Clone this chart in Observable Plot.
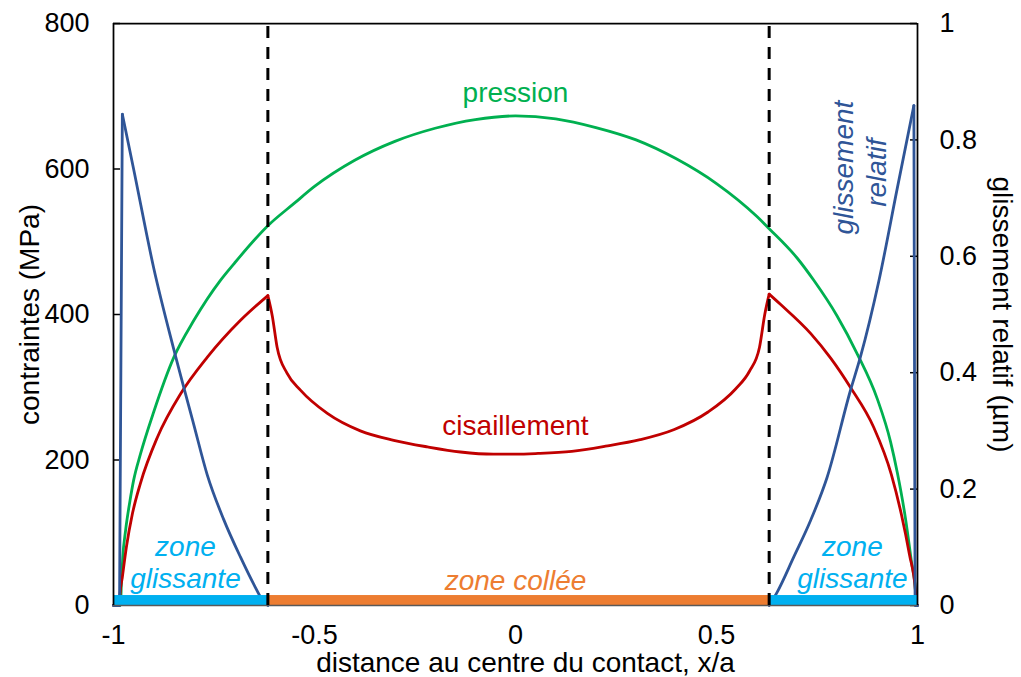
<!DOCTYPE html>
<html><head><meta charset="utf-8">
<script src="https://cdn.jsdelivr.net/npm/d3@7"></script>
<script src="https://cdn.jsdelivr.net/npm/@observablehq/plot@0.6"></script>
<style>
html,body{margin:0;padding:0;background:#fff;}
</style></head><body><div id="chart"></div>
<script>
// x/a positions and values
const pressionX = [-1, -0.983, -0.98, -0.977, -0.97, -0.959, -0.95, -0.933, -0.9, -0.85, -0.8, -0.734, -0.7, -0.616, -0.55, -0.5, -0.4, -0.3, -0.2, -0.1, 0, 0.1, 0.2, 0.3, 0.4, 0.5, 0.6, 0.631, 0.7, 0.742, 0.8, 0.85, 0.9, 0.933, 0.95, 0.97, 0.985, 0.995, 0.997, 1];
const pressionMPa = [0, 0, 34, 66, 103, 144, 172, 208, 266, 341, 392, 447, 470, 522, 553, 576, 612, 638, 656, 668, 673, 669, 657, 640, 614, 580, 535, 518, 478, 447, 398, 346, 284, 225, 182, 120, 60, 20, 0, 0];

const cisX = [-1, -0.985, -0.984, -0.978, -0.968, -0.953, -0.933, -0.891, -0.833, -0.767, -0.684, -0.616, -0.605, -0.593, -0.568, -0.535, -0.468, -0.386, -0.303, -0.219, -0.137, -0.055, 0, 0.056, 0.14, 0.224, 0.31, 0.395, 0.479, 0.548, 0.582, 0.607, 0.62, 0.631, 0.659, 0.734, 0.784, 0.833, 0.891, 0.935, 0.96, 0.98, 0.995, 0.997, 1];
const cisMPa = [0, 0, 14, 39, 80, 126, 168, 231, 291, 341, 392, 426, 398, 355, 319, 296, 264, 240, 227, 218, 211, 208, 208, 209, 212, 219, 228, 242, 266, 298, 322, 355, 400, 428, 414, 374, 340, 300, 245, 180, 125, 70, 20, 0, 0];

const glisX = [-1, -0.985, -0.978, -0.95, -0.9, -0.85, -0.8, -0.767, -0.726, -0.684, -0.65, -0.63, -0.616, 0.631, 0.651, 0.692, 0.734, 0.775, 0.833, 0.858, 0.904, 0.95, 0.991, 0.994, 1];
const glisUm = [0, 0, 0.844, 0.75, 0.58, 0.44, 0.31, 0.225, 0.148, 0.083, 0.035, 0.01, 0, 0, 0.023, 0.083, 0.146, 0.22, 0.369, 0.427, 0.558, 0.718, 0.859, 0, 0];

const boundaries = [-0.616, 0.631];
const glisPeaks = [-0.978, 0.991];
const zoneStart = [-1, -0.616, 0.631];
const zoneEnd = [-0.616, 0.631, 1];
const zoneKind = ["glissante", "collée", "glissante"];

const xTicks = [-1, -0.5, 0, 0.5, 1];
const yTicksLeft = [0, 200, 400, 600, 800];
const yTicksRight = [0, 0.2, 0.4, 0.6, 0.8, 1];

const SCALE = 800; // 1 µm on the right axis = 800 MPa on the left axis
const GREEN = "#00B050", RED = "#C00000", BLUE = "#2F5597", LIGHTBLUE = "#00B0F0", ORANGE = "#ED7D31";
const FS = 27;   // tick labels
const FL = 28;   // annotations and titles

const pression = pressionX.map((x, i) => ({x, v: pressionMPa[i]}));
const cis = cisX.map((x, i) => ({x, v: cisMPa[i]}));
const glis = glisX.map((x, i) => ({x, v: glisUm[i]}));
const zones = zoneStart.map((x1, i) => ({x1, x2: zoneEnd[i], kind: zoneKind[i]}));

// split curves at their cusps so the smoothing keeps the sharp peaks
const [b0, b1] = boundaries;
const cisParts = [cis.filter(d => d.x <= b0), cis.filter(d => d.x >= b0 && d.x <= b1), cis.filter(d => d.x >= b1)];
const [p0, p1] = glisPeaks;
const glisEdgeL = glis.filter(d => d.x <= p0);
const glisMid = [glis.filter(d => d.x >= p0 && d.x <= b0), glis.filter(d => d.x >= b1 && d.x <= p1)];
const glisEdgeR = glis.filter(d => d.x >= p1);

const W = 1021, H = 677, ML = 113, MR = 104, MT = 23, MB = 72;
const PW = W - ML - MR;

const chart = Plot.plot({
  width: W, height: H,
  marginLeft: ML, marginRight: MR, marginTop: MT, marginBottom: MB,
  style: {fontFamily: "'Liberation Sans', Arial, sans-serif", fontSize: FS + "px", background: "#fff", color: "#000"},
  x: {domain: [-1, 1], label: null},
  y: {domain: [0, 800], label: null},
  marks: [
    Plot.axisX({ticks: xTicks, tickFormat: d => String(d), tickSize: 0, tickPadding: 19, fontSize: FS, fill: "#000", label: null}),
    Plot.axisY({anchor: "left", ticks: yTicksLeft, tickFormat: d => String(d), tickSize: 0, tickPadding: 24, fontSize: FS, fill: "#000", label: null}),
    Plot.axisY({anchor: "right", ticks: yTicksRight.map(v => v * SCALE), tickFormat: d => String(Math.round(d / SCALE * 10) / 10), tickSize: 0, tickPadding: 22, fontSize: FS, fill: "#000", label: null}),
    Plot.tickY(yTicksLeft, {y: d => d, insetRight: PW - 7, stroke: "#000", strokeWidth: 1.5}),
    Plot.tickY(yTicksRight, {y: d => d * SCALE, insetLeft: PW - 7, stroke: "#000", strokeWidth: 1.5}),
    Plot.line(pression, {x: "x", y: "v", stroke: GREEN, strokeWidth: 2.8, curve: "monotone-x"}),
    ...cisParts.map(part => Plot.line(part, {x: "x", y: "v", stroke: RED, strokeWidth: 2.8, curve: "monotone-x"})),
    Plot.line(glisEdgeL, {x: "x", y: d => d.v * SCALE, stroke: BLUE, strokeWidth: 2.8}),
    ...glisMid.map(part => Plot.line(part, {x: "x", y: d => d.v * SCALE, stroke: BLUE, strokeWidth: 2.8, curve: "monotone-x"})),
    Plot.line(glisEdgeR, {x: "x", y: d => d.v * SCALE, stroke: BLUE, strokeWidth: 2.8}),
    Plot.rect(zones, {x1: "x1", x2: "x2", y1: 0, y2: 13.7, fill: d => d.kind === "collée" ? ORANGE : LIGHTBLUE}),
    Plot.ruleY([0], {stroke: "#595959", strokeWidth: 1.5}),
    Plot.ruleY([800], {stroke: "#000", strokeWidth: 1.75}),
    Plot.ruleX([-1, 1], {stroke: "#000", strokeWidth: 1.75}),
    Plot.ruleX(boundaries, {y1: 0, y2: 800, stroke: "#000", strokeWidth: 3, strokeDasharray: "12,9"}),
    Plot.text(["pression"], {x: 0, y: 704, fill: GREEN, fontSize: FL}),
    Plot.text(["cisaillement"], {x: 0, y: 247, fill: RED, fontSize: FL}),
    Plot.text(["zone"], {x: -0.821, y: 81, fill: LIGHTBLUE, fontSize: FL, fontStyle: "italic"}),
    Plot.text(["glissante"], {x: -0.821, y: 37, fill: LIGHTBLUE, fontSize: FL, fontStyle: "italic"}),
    Plot.text(["zone"], {x: 0.838, y: 81, fill: LIGHTBLUE, fontSize: FL, fontStyle: "italic"}),
    Plot.text(["glissante"], {x: 0.838, y: 37, fill: LIGHTBLUE, fontSize: FL, fontStyle: "italic"}),
    Plot.text(["zone collée"], {x: 0, y: 34, fill: ORANGE, fontSize: FL, fontStyle: "italic"}),
    Plot.text(["glissement"], {x: 0.816, y: 602, rotate: -90, fill: BLUE, fontSize: FL, fontStyle: "italic"}),
    Plot.text(["relatif"], {x: 0.900, y: 595, rotate: -90, fill: BLUE, fontSize: FL, fontStyle: "italic"}),
    Plot.text(["contraintes (MPa)"], {frameAnchor: "left", dx: -83, rotate: -90, textAnchor: "middle", lineAnchor: "middle", fill: "#000", fontSize: FL}),
    Plot.text(["glissement relatif (µm)"], {frameAnchor: "right", dx: 84, rotate: 90, textAnchor: "middle", lineAnchor: "middle", fill: "#000", fontSize: FL}),
    Plot.text(["distance au centre du contact, x/a"], {frameAnchor: "bottom", dx: 10, dy: 58, textAnchor: "middle", lineAnchor: "middle", fill: "#000", fontSize: FL})
  ]
});
document.getElementById("chart").appendChild(chart);
</script>
</body></html>
